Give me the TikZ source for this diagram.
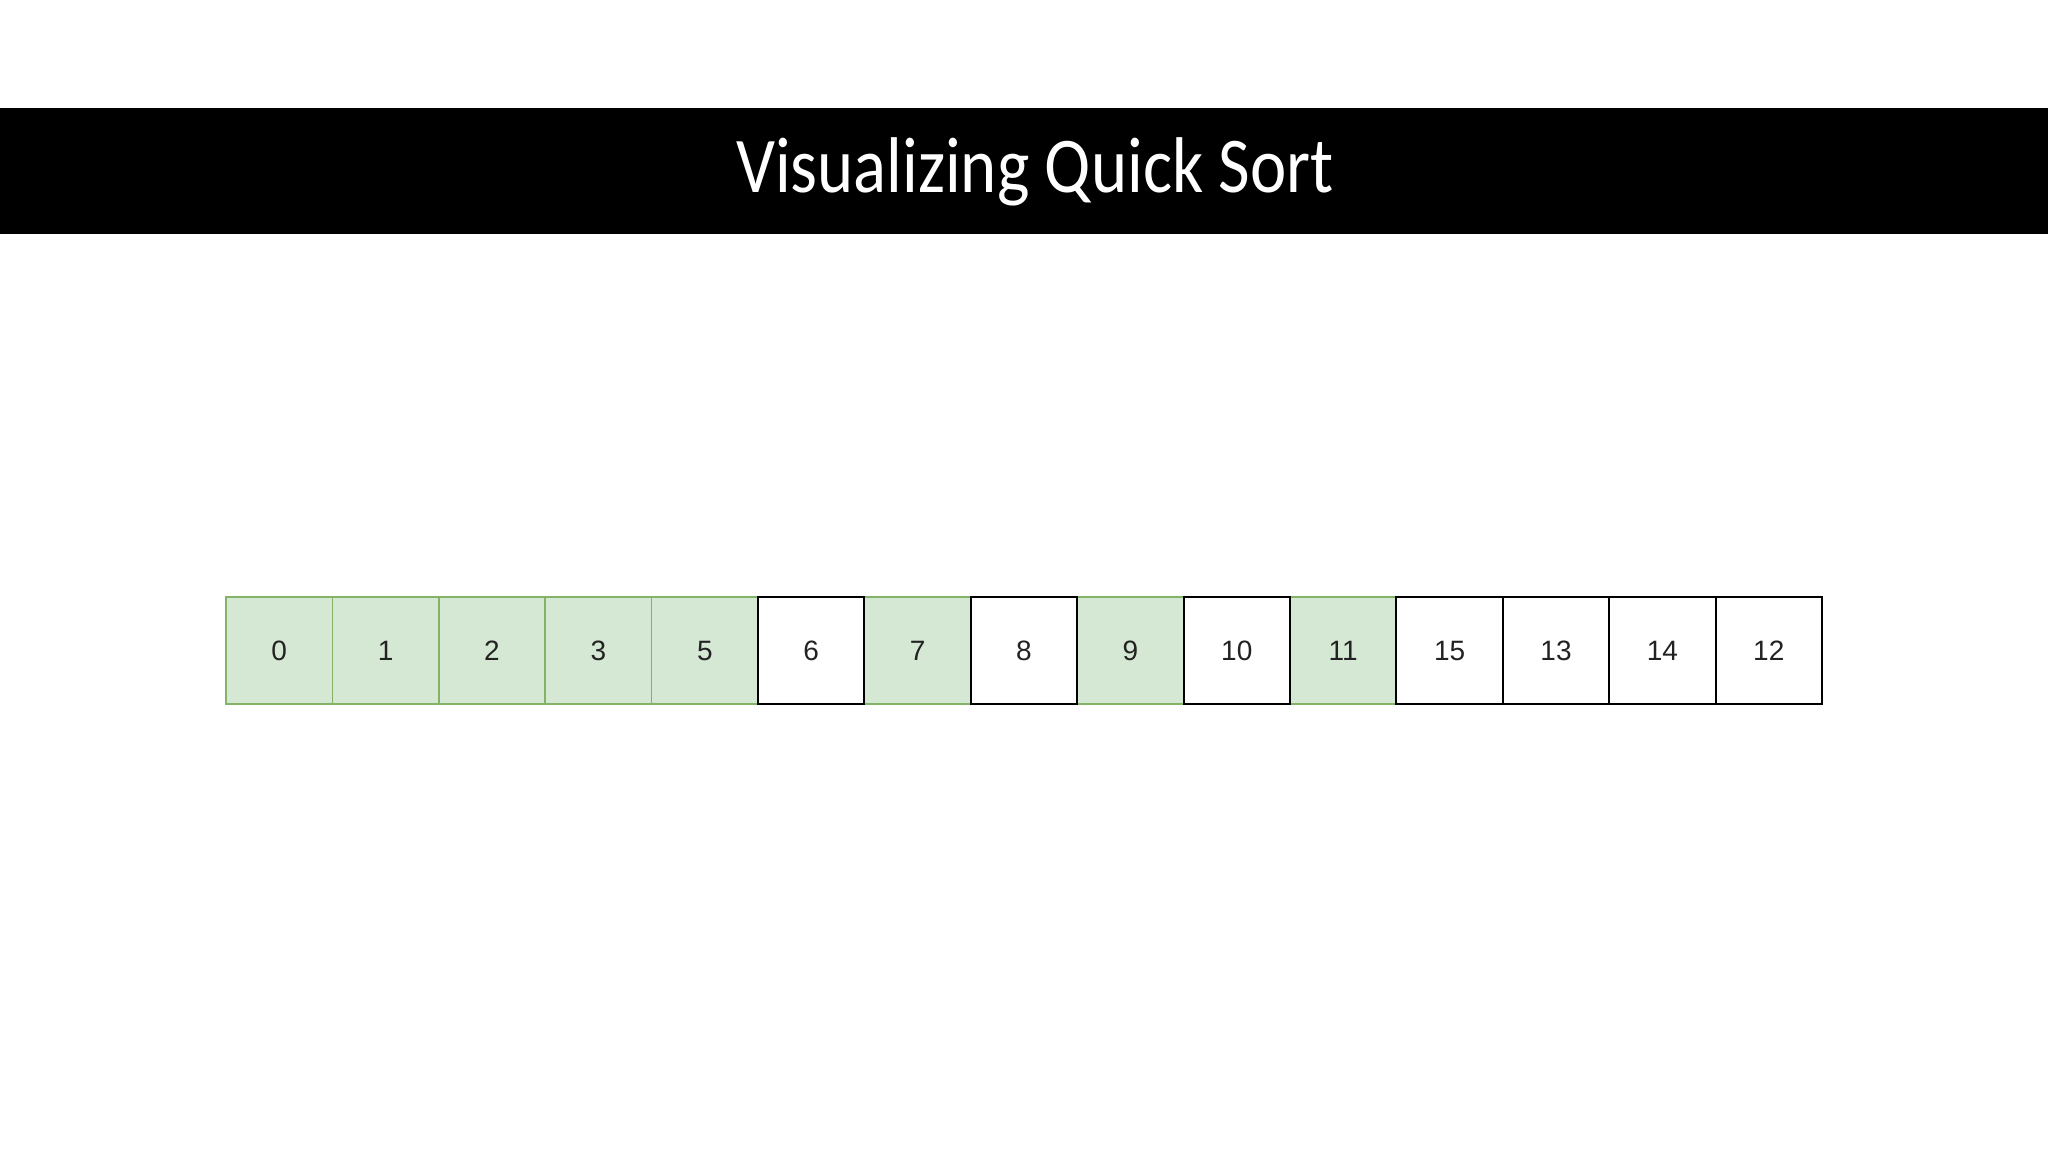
\documentclass[tikz,border=0pt]{standalone}
\usepackage{fontspec}
\setmainfont{Liberation Sans}
\newfontfamily\titlefont{Carlito}
\definecolor{gfill}{HTML}{D5E8D4}
\definecolor{gline}{HTML}{82B366}
\definecolor{numcol}{HTML}{222222}
\begin{document}
\begin{tikzpicture}[x=1pt,y=-1pt,
  cell/.style={minimum width=106.4pt,minimum height=107pt,inner sep=0pt,outer sep=0pt,
    font=\fontsize{28}{30}\selectfont,text=numcol},
  gcell/.style={cell,fill=gfill,draw=gline,line width=1.6pt},
  wcell/.style={cell,fill=white,draw=black,line width=2pt},
  band/.style={fill=black,draw=none}]
\useasboundingbox (0,0) rectangle (2048,1152);
\fill[white] (0,0) rectangle (2048,1152);
\fill[band] (0,108) rectangle (2048,234);
\node[text=white,inner sep=0pt,font=\titlefont\fontsize{79}{80}\selectfont,xscale=0.87] (title) at (1035,172) {Visualizing Quick Sort};
% green cells
\foreach \i/\v in {0/0,1/1,2/2,3/3,4/5,6/7,8/9,10/11}{
  \node[gcell] (c\i) at ({226+106.4*\i+53.2},650.5) {\v};
}
% white cells
\foreach \i/\v in {5/6,7/8,9/10,11/15,12/13,13/14,14/12}{
  \node[wcell] (c\i) at ({226+106.4*\i+53.2},650.5) {\v};
}
\end{tikzpicture}
\end{document}
